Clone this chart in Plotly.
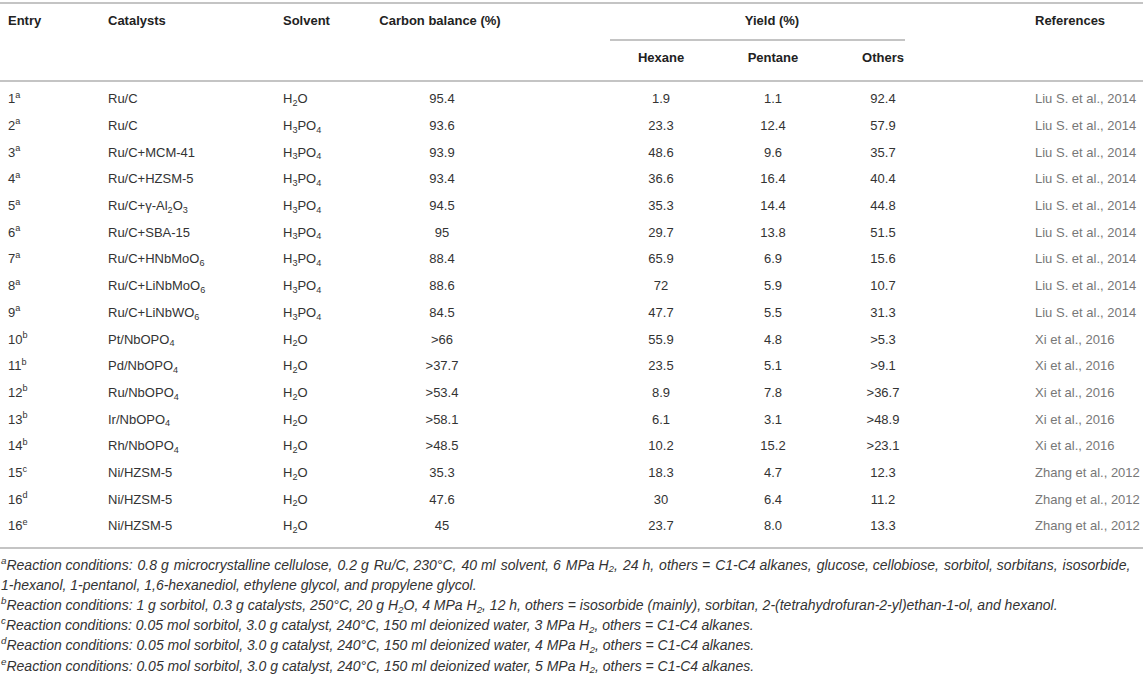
import plotly.graph_objects as go

# table content
entries = ["1", "2", "3", "4", "5", "6", "7", "8", "9", "10", "11", "12", "13", "14", "15", "16", "16"]
notes = ["a"] * 9 + ["b"] * 5 + ["c", "d", "e"]
catalysts = ["Ru/C", "Ru/C", "Ru/C+MCM-41", "Ru/C+HZSM-5", "Ru/C+γ-Al<sub>2</sub>O<sub>3</sub>",
             "Ru/C+SBA-15", "Ru/C+HNbMoO<sub>6</sub>", "Ru/C+LiNbMoO<sub>6</sub>", "Ru/C+LiNbWO<sub>6</sub>",
             "Pt/NbOPO<sub>4</sub>", "Pd/NbOPO<sub>4</sub>", "Ru/NbOPO<sub>4</sub>", "Ir/NbOPO<sub>4</sub>",
             "Rh/NbOPO<sub>4</sub>", "Ni/HZSM-5", "Ni/HZSM-5", "Ni/HZSM-5"]
solvents = ["H<sub>2</sub>O"] + ["H<sub>3</sub>PO<sub>4</sub>"] * 8 + ["H<sub>2</sub>O"] * 8
carbon_balance = ["95.4", "93.6", "93.9", "93.4", "94.5", "95", "88.4", "88.6", "84.5",
                  ">66", ">37.7", ">53.4", ">58.1", ">48.5", "35.3", "47.6", "45"]
hexane = ["1.9", "23.3", "48.6", "36.6", "35.3", "29.7", "65.9", "72", "47.7",
          "55.9", "23.5", "8.9", "6.1", "10.2", "18.3", "30", "23.7"]
pentane = ["1.1", "12.4", "9.6", "16.4", "14.4", "13.8", "6.9", "5.9", "5.5",
           "4.8", "5.1", "7.8", "3.1", "15.2", "4.7", "6.4", "8.0"]
others = ["92.4", "57.9", "35.7", "40.4", "44.8", "51.5", "15.6", "10.7", "31.3",
          ">5.3", ">9.1", ">36.7", ">48.9", ">23.1", "12.3", "11.2", "13.3"]
references = ["Liu S. et al., 2014"] * 9 + ["Xi et al., 2016"] * 5 + ["Zhang et al., 2012"] * 3

headers = ["Entry", "Catalysts", "Solvent", "Carbon balance (%)", "Yield (%)", "References"]
sub_headers = ["Hexane", "Pentane", "Others"]

footnotes = [
    "<sup>a</sup>Reaction conditions: 0.8 g microcrystalline cellulose, 0.2 g Ru/C, 230°C, 40 ml solvent, 6 MPa H<sub>2</sub>, 24 h, others = C1-C4 alkanes, glucose, cellobiose, sorbitol, sorbitans, isosorbide,",
    "1-hexanol, 1-pentanol, 1,6-hexanediol, ethylene glycol, and propylene glycol.",
    "<sup>b</sup>Reaction conditions: 1 g sorbitol, 0.3 g catalysts, 250°C, 20 g H<sub>2</sub>O, 4 MPa H<sub>2</sub>, 12 h, others = isosorbide (mainly), sorbitan, 2-(tetrahydrofuran-2-yl)ethan-1-ol, and hexanol.",
    "<sup>c</sup>Reaction conditions: 0.05 mol sorbitol, 3.0 g catalyst, 240°C, 150 ml deionized water, 3 MPa H<sub>2</sub>, others = C1-C4 alkanes.",
    "<sup>d</sup>Reaction conditions: 0.05 mol sorbitol, 3.0 g catalyst, 240°C, 150 ml deionized water, 4 MPa H<sub>2</sub>, others = C1-C4 alkanes.",
    "<sup>e</sup>Reaction conditions: 0.05 mol sorbitol, 3.0 g catalyst, 240°C, 150 ml deionized water, 5 MPa H<sub>2</sub>, others = C1-C4 alkanes.",
]
# first line of footnote a is justified in the original: widen every other space a bit
words = footnotes[0].split(" ")
footnotes[0] = words[0] + "".join((" \u200a" if i % 2 else " ") + w for i, w in enumerate(words[1:]))

# layout (pixel units on the axes)
W, H = 1143, 676
FONT = "Liberation Sans, Arial, sans-serif"
TXT = "#333333"
HEAD = "#222222"
REF = "#777777"
LINE = "#c4c4c4"
row_top, row_step = 100, 26.7
rows_y = [row_top + i * row_step for i in range(len(entries))]
head_y, sub_y = 22, 59
foot_top, foot_step = 566, 20.2

fig = go.Figure()


def col(x, y, text, pos, color=TXT, size=13, bold=False):
    if bold:
        text = ["<b>" + t + "</b>" for t in text]
    fig.add_trace(go.Scatter(
        x=[x] * len(text) if not isinstance(x, list) else x,
        y=y, text=text, mode="text", textposition=pos,
        textfont=dict(family=FONT, size=size, color=color),
        hoverinfo="skip", showlegend=False,
    ))


# header
col([8, 108, 283], [head_y] * 3, headers[:3], "middle right", color=HEAD, bold=True)
col([440, 772], [head_y] * 2, headers[3:5], "middle center", color=HEAD, bold=True)
col([1035], [head_y], headers[5:], "middle right", color=HEAD, bold=True)
col([661, 773, 883], [sub_y] * 3, sub_headers, "middle center", color=HEAD, bold=True)

# body
col(8, rows_y, [e + "<sup>" + n + "</sup>" for e, n in zip(entries, notes)], "middle right")
col(108, rows_y, catalysts, "middle right")
col(283, rows_y, solvents, "middle right")
col(442, rows_y, carbon_balance, "middle center")
col(661, rows_y, hexane, "middle center")
col(773, rows_y, pentane, "middle center")
col(883, rows_y, others, "middle center")
col(1035, rows_y, references, "middle right", color=REF)

# footnotes
foot_y = [foot_top + k * foot_step for k in range(len(footnotes))]
col(1, foot_y, ["<i>" + f + "</i>" for f in footnotes], "middle right", size=14)

# rules
rule = dict(type="line", xref="x", yref="y", line=dict(color=LINE, width=2))
shapes = [
    dict(rule, x0=0, x1=W, y0=3, y1=3),
    dict(rule, x0=610, x1=905, y0=40, y1=40),
    dict(rule, x0=0, x1=W, y0=81, y1=81),
    dict(rule, x0=0, x1=W, y0=548, y1=548),
]

fig.update_layout(
    width=W, height=H,
    margin=dict(l=0, r=0, t=0, b=0),
    plot_bgcolor="white", paper_bgcolor="white",
    xaxis=dict(range=[0, W], visible=False, fixedrange=True),
    yaxis=dict(range=[H, 0], visible=False, fixedrange=True),
    shapes=shapes,
)

# drop the default page margin so the figure sits at the window corner
fig.write_html("out.html", config={"displayModeBar": False},
               post_script="document.body.style.margin='0';")
